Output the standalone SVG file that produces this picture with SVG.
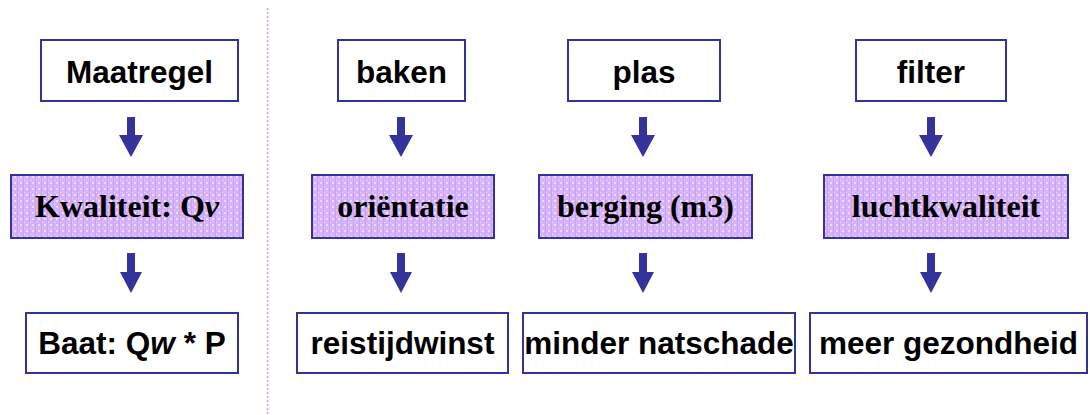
<svg xmlns="http://www.w3.org/2000/svg" width="1090" height="415" viewBox="0 0 1090 415">
<defs>
<pattern id="hatch" width="6" height="6" patternUnits="userSpaceOnUse">
<rect width="6" height="6" fill="#d6b2fa"/>
<rect x="2" y="2" width="2" height="2" fill="#eedcff"/>
<rect x="0" y="0" width="1" height="1" fill="#eedcff"/>
<rect x="5" y="0" width="1" height="6" fill="#c9a2f3"/>
</pattern>
<style>
.box{fill:#ffffff;stroke:#333399;stroke-width:2}
.pbox{fill:url(#hatch);stroke:#333399;stroke-width:2}
.sans{font-family:"Liberation Sans",Arial,sans-serif;font-weight:bold;font-size:31.5px;fill:#000;text-anchor:middle}
.serif{font-family:"Liberation Serif","Times New Roman",serif;font-weight:bold;font-size:32px;fill:#000;text-anchor:middle}
.arrow{fill:#333399}
</style>
</defs>
<rect width="1090" height="415" fill="#ffffff"/>
<line x1="267.5" y1="8" x2="267.5" y2="415" stroke="#cc99ff" stroke-width="1.5" stroke-dasharray="2 2"/>

<g id="connectors">
<path class="arrow" d="M127,117 H135 V135 H143 L131,157 L119,135 H127 Z"/>
<path class="arrow" d="M127,253 H135 V272 H142 L131,293 L120,272 H127 Z"/>
<path class="arrow" d="M397,117 H405 V135 H413 L401,157 L389,135 H397 Z"/>
<path class="arrow" d="M397,253 H405 V272 H412 L401,293 L390,272 H397 Z"/>
<path class="arrow" d="M639,117 H647 V135 H655 L643,157 L631,135 H639 Z"/>
<path class="arrow" d="M639,253 H647 V272 H654 L643,293 L632,272 H639 Z"/>
<path class="arrow" d="M927,117 H935 V135 H943 L931,157 L919,135 H927 Z"/>
<path class="arrow" d="M927,253 H935 V272 H942 L931,293 L920,272 H927 Z"/>
</g>

<g id="maatregel"><rect class="box" x="41" y="40" width="197" height="61"/><text class="sans" x="139.5" y="83">Maatregel</text></g>
<g id="baken"><rect class="box" x="338" y="40" width="127" height="61"/><text class="sans" x="401.5" y="83">baken</text></g>
<g id="plas"><rect class="box" x="568" y="40" width="152" height="61"/><text class="sans" x="644" y="83">plas</text></g>
<g id="filter"><rect class="box" x="856" y="40" width="150" height="61"/><text class="sans" x="931" y="83">filter</text></g>

<g id="kwaliteit"><rect class="pbox" x="11" y="175" width="232" height="63"/><text class="serif" x="127" y="217">Kwaliteit: Q<tspan font-style="italic">v</tspan></text></g>
<g id="orientatie"><rect class="pbox" x="312" y="175" width="182" height="63"/><text class="serif" x="403" y="217">oriëntatie</text></g>
<g id="berging"><rect class="pbox" x="539" y="175" width="213" height="63"/><text class="serif" x="645.5" y="217">berging (m3)</text></g>
<g id="luchtkwaliteit"><rect class="pbox" x="824" y="175" width="244" height="63"/><text class="serif" x="946" y="217">luchtkwaliteit</text></g>

<g id="baat"><rect class="box" x="26" y="313" width="212" height="60"/><text class="sans" x="132" y="354">Baat: Q<tspan font-style="italic">w</tspan> * P</text></g>
<g id="reistijdwinst"><rect class="box" x="297" y="313" width="211" height="60"/><text class="sans" x="402.5" y="354">reistijdwinst</text></g>
<g id="natschade"><rect class="box" x="523" y="313" width="272" height="60"/><text class="sans" x="659" y="354">minder natschade</text></g>
<g id="gezondheid"><rect class="box" x="810" y="313" width="277" height="60"/><text class="sans" x="948.5" y="354">meer gezondheid</text></g>
</svg>
